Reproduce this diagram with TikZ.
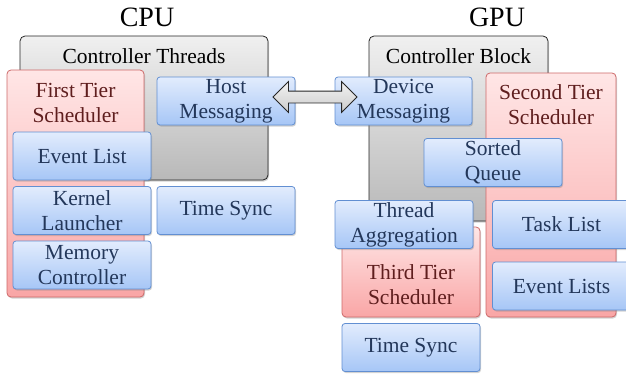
\documentclass[tikz,border=0pt]{standalone}
\usepackage{fontspec}
\setmainfont{Liberation Serif}
\usetikzlibrary{shapes.arrows,shadows}

\definecolor{bluetop}{RGB}{226,236,253}
\definecolor{bluebot}{RGB}{166,198,246}
\definecolor{blueline}{RGB}{98,143,210}
\definecolor{bluetext}{RGB}{35,55,90}
\definecolor{redtop}{RGB}{255,230,230}
\definecolor{redbot}{RGB}{249,166,166}
\definecolor{redline}{RGB}{205,105,105}
\definecolor{redtext}{RGB}{95,30,30}
\definecolor{graytop}{RGB}{240,240,240}
\definecolor{graybot}{RGB}{184,184,184}

\begin{document}
\begin{tikzpicture}[x=1pt, y=-1pt,
        every node/.style={font=\fontsize{21.5}{25}\selectfont, align=center},
        boxshadow/.style={drop shadow={shadow xshift=1pt, shadow yshift=-1.5pt, opacity=0.35}},
        bluebox/.style={draw=blueline, top color=bluetop, bottom color=bluebot, text=bluetext,
            rounded corners=3pt, line width=0.8pt, minimum width=138pt, minimum height=48pt,
            inner sep=0pt, boxshadow},
        redbox/.style={draw=redline, top color=redtop, bottom color=redbot,
            rounded corners=4pt, line width=0.8pt, inner sep=0pt, boxshadow},
        graybox/.style={draw=black!85, top color=graytop, bottom color=graybot,
            rounded corners=5pt, line width=0.8pt, inner sep=0pt, boxshadow},
        redtitle/.style={text=redtext},
        bigtitle/.style={font=\fontsize{28}{30}\selectfont},
        msgarrow/.style={double arrow, draw=black!85, line width=0.8pt, top color=gray!10,
            bottom color=gray!40, minimum height=84pt, inner xsep=0pt, inner ysep=5.5pt,
            double arrow head extend=9.5pt}]

        \useasboundingbox (0, 0) rectangle (626, 378);

        % заголовки
        \node [bigtitle] (cpu) at (147, 17) {CPU};
        \node [bigtitle] (gpu) at (497, 17) {GPU};

        % CPU
        \node [graybox, minimum width=248pt, minimum height=144pt] (ctlthreads) at (144, 108) {};
        \node (ctlthreadstitle) at (144, 56) {Controller Threads};
        \node [redbox, minimum width=137pt, minimum height=227pt] (firsttier) at (75.5, 183.5) {};
        \node [redtitle] (firsttiertitle) at (75.5, 103) {First Tier\\Scheduler};
        \node [bluebox] (hostmsg) at (226, 101) {Host\\Messaging};
        \node [bluebox] (eventlist) at (82, 156) {Event List};
        \node [bluebox] (kernel) at (82, 210.5) {Kernel\\Launcher};
        \node [bluebox] (cputime) at (226, 210.5) {Time Sync};
        \node [bluebox] (memctrl) at (82, 265) {Memory\\Controller};

        % GPU
        \node [graybox, minimum width=179pt, minimum height=185pt] (ctlblock) at (458.5, 128.5) {};
        \node (ctlblocktitle) at (458.5, 56) {Controller Block};
        \node [bluebox, minimum width=137pt] (devmsg) at (403.5, 101) {Device\\Messaging};
        \node [redbox, minimum width=130pt, minimum height=244pt] (secondtier) at (551, 195) {};
        \node [redtitle] (secondtiertitle) at (551, 105) {Second Tier\\Scheduler};
        \node [bluebox] (sorted) at (493, 162.5) {Sorted\\Queue};
        \node [redbox, minimum width=138pt, minimum height=90pt] (thirdtier) at (411, 272) {};
        \node [redtitle] (thirdtiertitle) at (411, 285) {Third Tier\\Scheduler};
        \node [bluebox] (threadagg) at (404, 224.5) {Thread\\Aggregation};
        \node [bluebox] (tasklist) at (561.5, 224.5) {Task List};
        \node [bluebox] (eventlists) at (561.5, 286) {Event Lists};
        \node [bluebox] (gputime) at (411, 347.5) {Time Sync};

        % обмен сообщениями
        \path (hostmsg.east) -- node [msgarrow, yshift=4pt] (link) {} (devmsg.west);
    \end{tikzpicture}
\end{document}
